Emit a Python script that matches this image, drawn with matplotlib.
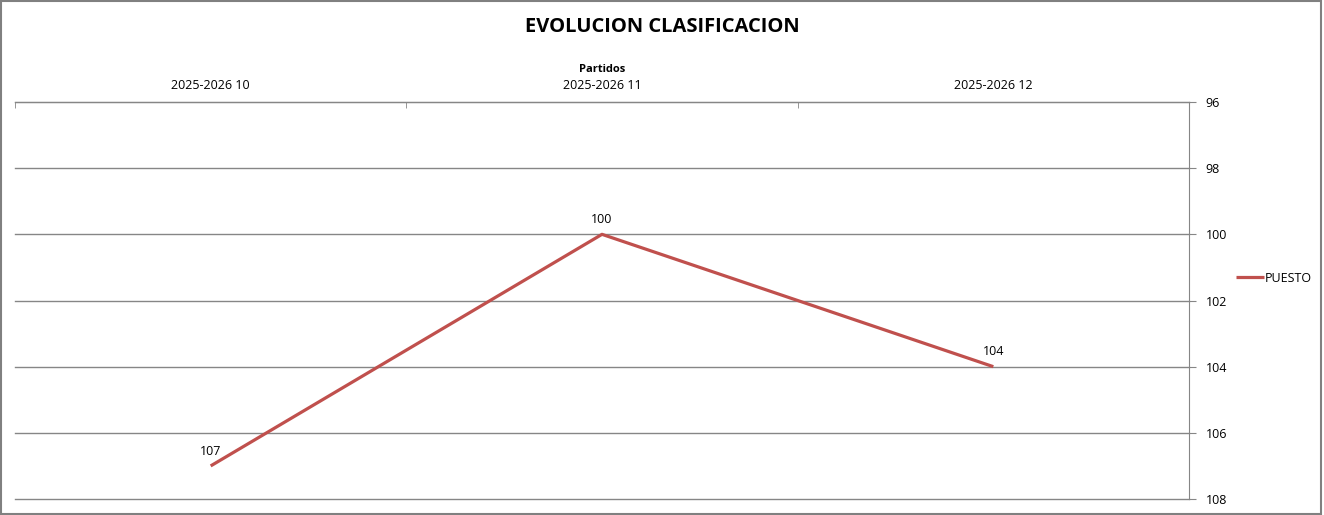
import matplotlib.pyplot as plt
from matplotlib.patches import Rectangle

# data
partidos = ["2025-2026 10", "2025-2026 11", "2025-2026 12"]
puesto = [107, 100, 104]
y_ticks = [96, 98, 100, 102, 104, 106, 108]

line_color = "#C0504D"
grid_color = "#868686"

plt.rcParams["font.family"] = ["Open Sans", "DejaVu Sans"]

fig = plt.figure(figsize=(13.24, 5.15), dpi=100)
ax = fig.add_axes([15 / 1324, 1 - 499 / 515, (1189 - 15) / 1324, (499 - 102) / 515])

x = list(range(len(partidos)))
ax.plot(x, puesto, color=line_color, linewidth=2.3, label="PUESTO", solid_capstyle="butt")
for xi, val in zip(x, puesto):
    ax.annotate(str(val), (xi, val), xytext=(0, 6), textcoords="offset points",
                ha="center", va="bottom", fontsize=9)

# inverted value axis on the right
ax.set_ylim(108, 96)
ax.set_yticks(y_ticks)
ax.yaxis.tick_right()
ax.tick_params(axis="y", length=5, color=grid_color, labelsize=9, pad=7)
ax.grid(axis="y", color=grid_color, linewidth=1)
for gl in ax.get_ygridlines():
    gl.set_clip_on(False)

# category axis on top
ax.set_xlim(-0.5, len(partidos) - 0.5)
ax.xaxis.tick_top()
ax.xaxis.set_label_position("top")
ax.set_xticks(x)
ax.set_xticklabels(partidos)
ax.set_xticks([i - 0.5 for i in range(len(partidos) + 1)], minor=True)
ax.tick_params(axis="x", which="major", length=0, labelsize=9, pad=7)
ax.tick_params(axis="x", which="minor", length=4, direction="in", color=grid_color)
ax.set_xlabel("Partidos", fontsize=8, fontweight="bold", labelpad=5)

for side in ["left", "bottom"]:
    ax.spines[side].set_visible(False)
ax.spines["top"].set_color(grid_color)
ax.spines["right"].set_color(grid_color)
ax.set_axisbelow(True)

fig.text(0.5, 1 - 27 / 515, "EVOLUCION CLASIFICACION", ha="center", va="center",
         fontsize=14.5, fontweight="bold")

fig.legend(loc="center left", bbox_to_anchor=(1230 / 1324, 1 - 278 / 515), frameon=False,
           fontsize=9, handlelength=2.2, handletextpad=0.1, borderpad=0)

fig.patches.append(Rectangle((0.001, 0.002), 0.997, 0.996, transform=fig.transFigure,
                             fill=False, edgecolor="#808080", linewidth=1.5))

fig.savefig("out.png", dpi=100)
